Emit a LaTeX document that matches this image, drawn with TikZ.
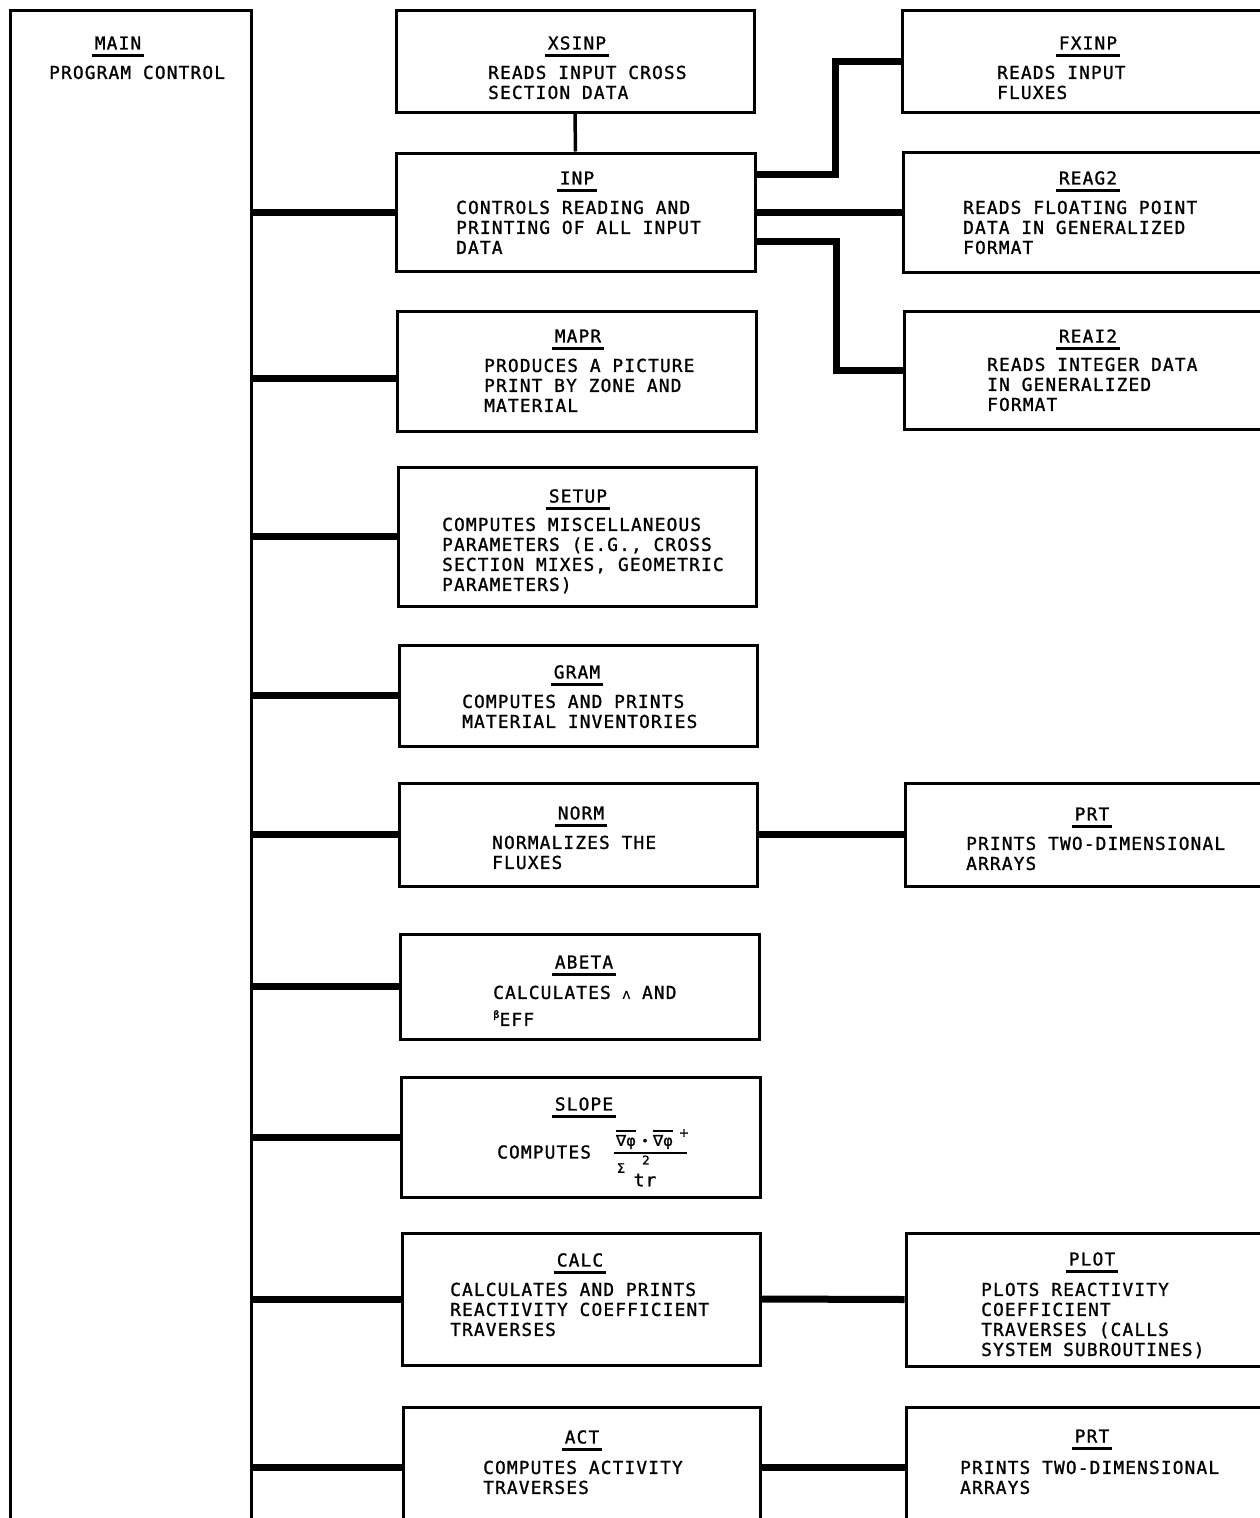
\documentclass[tikz,border=0pt]{standalone}
\usepackage{fontspec}
\newfontfamily\plotfont{DejaVu Sans Mono}[LetterSpace=6.5,FakeBold=1.2]
\newfontfamily\symfont{DejaVu Sans}[FakeBold=1.2]
\usepackage{tikz}
\usetikzlibrary{positioning}

\begin{document}
\begin{tikzpicture}[
  x=1pt, y=-1pt,
  font={\plotfont\fontsize{17.8}{20}\selectfont},
  box/.style={draw, line width=3pt, inner sep=0pt},
  ttl/.style={inner sep=0pt},
  body/.style={inner sep=0pt, align=left, anchor=north west},
  uline/.style={line width=3pt},
  link/.style={line width=7pt},
  tie/.style={line width=3.5pt},
  sym/.style={inner sep=0pt, font={\symfont\fontsize{15}{15}\selectfont}},
  tiny/.style={inner sep=0pt, font={\symfont\fontsize{12}{12}\selectfont}}]
  \useasboundingbox (0,0) rectangle (1260,1518);
  \clip (0,0) rectangle (1260,1518);

  \node[box, minimum width=241pt, minimum height=1530pt] (main) at (130.5,775) {};
  \node[box, minimum width=358pt, minimum height=102pt] (xsinp) at (575,61) {};
  \node[box, minimum width=359pt, minimum height=118pt] (inp) at (575.5,212) {};
  \node[box, minimum width=359pt, minimum height=120pt] (mapr) at (576.5,371) {};
  \node[box, minimum width=358pt, minimum height=139pt] (setup) at (577,536.5) {};
  \node[box, minimum width=358pt, minimum height=101pt] (gram) at (578,695.5) {};
  \node[box, minimum width=358pt, minimum height=103pt] (norm) at (578,834.5) {};
  \node[box, minimum width=359pt, minimum height=105pt] (abeta) at (579.5,986.5) {};
  \node[box, minimum width=359pt, minimum height=120pt] (slope) at (580.5,1137) {};
  \node[box, minimum width=358pt, minimum height=132pt] (calc) at (581,1299) {};
  \node[box, minimum width=357pt, minimum height=120pt] (act) at (581.5,1467) {};
  \node[box, minimum width=373pt, minimum height=102pt] (fxinp) at (1088.5,61) {};
  \node[box, minimum width=372pt, minimum height=120pt] (reag2) at (1089,212) {};
  \node[box, minimum width=371pt, minimum height=118pt] (reai2) at (1089.5,370) {};
  \node[box, minimum width=370pt, minimum height=103pt] (prt) at (1090,834.5) {};
  \node[box, minimum width=369pt, minimum height=133pt] (plot) at (1090.5,1299.5) {};
  \node[box, minimum width=369pt, minimum height=120pt] (prtb) at (1090.5,1467) {};

  \node[ttl] (main-t) at (118,43) {MAIN};
  \node[ttl] (xsinp-t) at (577,43) {XSINP};
  \node[ttl] (inp-t) at (577,178) {INP};
  \node[ttl] (mapr-t) at (578,336) {MAPR};
  \node[ttl] (setup-t) at (578,496) {SETUP};
  \node[ttl] (gram-t) at (577,672) {GRAM};
  \node[ttl] (norm-t) at (581,813) {NORM};
  \node[ttl] (abeta-t) at (584,962) {ABETA};
  \node[ttl] (slope-t) at (584,1104) {SLOPE};
  \node[ttl] (calc-t) at (580,1260) {CALC};
  \node[ttl] (act-t) at (582,1437) {ACT};
  \node[ttl] (fxinp-t) at (1088,43) {FXINP};
  \node[ttl] (reag2-t) at (1088,178) {REAG2};
  \node[ttl] (reai2-t) at (1088,336) {REAI2};
  \node[ttl] (prt-t) at (1092,814) {PRT};
  \node[ttl] (plot-t) at (1092,1259) {PLOT};
  \node[ttl] (prtb-t) at (1092,1436) {PRT};
  \foreach \n in {main,xsinp,inp,mapr,setup,gram,norm,abeta,slope,calc,act,fxinp,reag2,reai2,prt,plot,prtb}
    \draw[uline] ([xshift=-3pt,yshift=-5.5pt]\n-t.south west) -- ([xshift=3pt,yshift=-5.5pt]\n-t.south east);

  \node[body] (main-b) at (49,65.5) {PROGRAM CONTROL};
  \node[body] (xsinp-b) at (488,65.5) {READS INPUT CROSS\\SECTION DATA};
  \node[body] (inp-b) at (456,200.5) {CONTROLS READING AND\\PRINTING OF ALL INPUT\\DATA};
  \node[body] (mapr-b) at (484,358.5) {PRODUCES A PICTURE\\PRINT BY ZONE AND\\MATERIAL};
  \node[body] (setup-b) at (442,517.5) {COMPUTES MISCELLANEOUS\\PARAMETERS (E.G., CROSS\\SECTION MIXES, GEOMETRIC\\PARAMETERS)};
  \node[body] (gram-b) at (462,694.5) {COMPUTES AND PRINTS\\MATERIAL INVENTORIES};
  \node[body] (norm-b) at (492,835.5) {NORMALIZES THE\\FLUXES};
  \node[body] (abeta-b) at (493,985.5) {CALCULATES {\symfont\fontsize{11}{11}\selectfont Λ} AND\\[7pt]\raisebox{8pt}{\symfont\fontsize{10}{10}\selectfont β}EFF};
  \node[ttl, anchor=west] (slope-b) at (497,1152) {COMPUTES};
  \node[body] (calc-b) at (450,1282.5) {CALCULATES AND PRINTS\\REACTIVITY COEFFICIENT\\TRAVERSES};
  \node[body] (act-b) at (483,1460.5) {COMPUTES ACTIVITY\\TRAVERSES};
  \node[body] (fxinp-b) at (997,65.5) {READS INPUT\\FLUXES};
  \node[body] (reag2-b) at (963,200.5) {READS FLOATING POINT\\DATA IN GENERALIZED\\FORMAT};
  \node[body] (reai2-b) at (987,357.5) {READS INTEGER DATA\\IN GENERALIZED\\FORMAT};
  \node[body] (prt-b) at (966,836.5) {PRINTS TWO-DIMENSIONAL\\ARRAYS};
  \node[body] (plot-b) at (981,1282.5) {PLOTS REACTIVITY\\COEFFICIENT\\TRAVERSES (CALLS\\SYSTEM SUBROUTINES)};
  \node[body] (prtb-b) at (960,1460.5) {PRINTS TWO-DIMENSIONAL\\ARRAYS};

  \node[sym] (slope-n1) at (626,1142) {∇φ};
  \node[tiny] (slope-dot) at (645,1142) {•};
  \node[sym] (slope-n2) at (663,1142) {∇φ};
  \node[tiny] (slope-plus) at (684,1133) {+};
  \node[tiny] (slope-two) at (646,1160) {2};
  \node[sym, font={\symfont\fontsize{13}{13}\selectfont}] (slope-sig) at (621,1168) {Σ};
  \node[ttl] (slope-tr) at (645,1180) {tr};
  \draw[line width=2.5pt] ([yshift=4pt]slope-n1.north west) -- ([yshift=4pt]slope-n1.north east);
  \draw[line width=2.5pt] ([yshift=4pt]slope-n2.north west) -- ([yshift=4pt]slope-n2.north east);
  \coordinate (slope-fl) at (614,1153);
  \coordinate (slope-fr) at (687,1153);
  \draw[line width=2pt] (slope-fl) -- (slope-fr);

  \foreach \n in {inp,setup,gram,norm,abeta,slope,calc,act}
    \draw[link] (main.east |- \n.west) -- (\n.west);
  \draw[link] (main.east |- 0,378) -- ([yshift=-7pt]mapr.west);
  \draw[tie] (xsinp.south) -- (inp.north);
  \draw[link] ([yshift=38pt]inp.east) -| ([xshift=-65pt]fxinp.west) -- (fxinp.west);
  \draw[link] (inp.east |- reag2.west) -- (reag2.west);
  \draw[link] ([yshift=-29pt]inp.east) -| ([xshift=-66pt]reai2.west) -- (reai2.west);
  \draw[link] (norm.east) -- (prt.west);
  \draw[link] (calc.east) -- (plot.west);
  \draw[link] (act.east) -- (prtb.west);
\end{tikzpicture}
\end{document}
